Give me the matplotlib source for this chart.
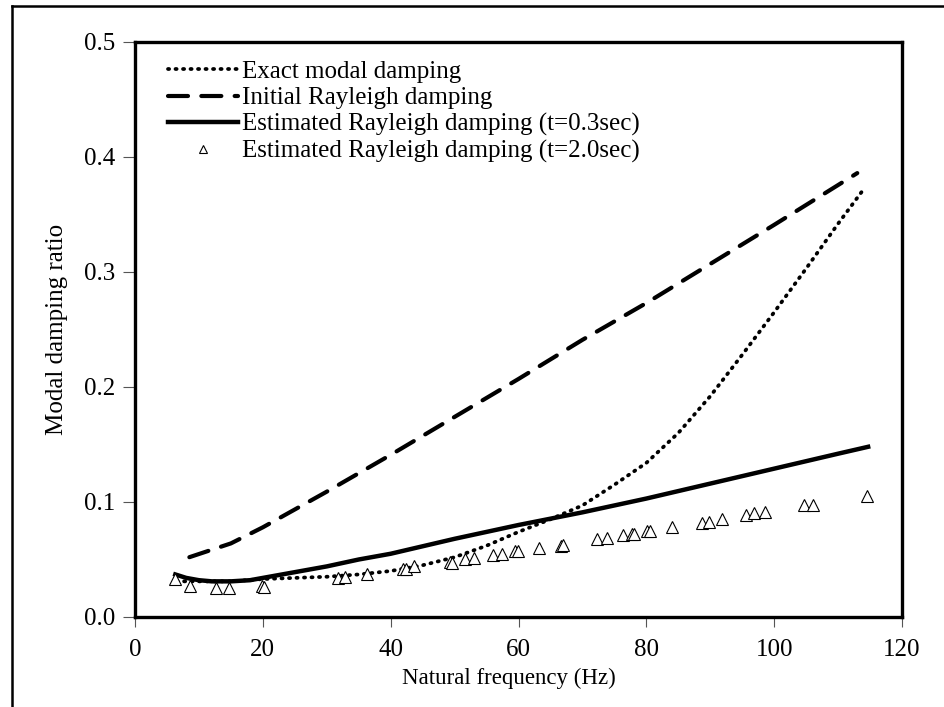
import numpy as np
import matplotlib
matplotlib.use("Agg")
import matplotlib.pyplot as plt
from matplotlib.lines import Line2D

plt.rcParams['font.family'] = ['Liberation Serif', 'DejaVu Serif']

# exact modal damping (dotted)
f_exact = [6.5, 10, 15, 20, 25, 30, 35, 40, 45, 50, 55, 60, 65, 70, 75, 80,
           85, 90, 95, 100, 105, 110, 114]
z_exact = [0.031, 0.031, 0.031, 0.033, 0.034, 0.035, 0.037, 0.040, 0.045,
           0.052, 0.062, 0.074, 0.085, 0.097, 0.115, 0.134, 0.160, 0.192,
           0.228, 0.265, 0.303, 0.342, 0.372]

# initial Rayleigh damping (dashed)
f_init = [8.5, 15, 20, 30, 40, 50, 60, 70, 80, 90, 100, 113]
z_init = [0.052, 0.064, 0.078, 0.109, 0.141, 0.174, 0.207, 0.241, 0.273,
          0.307, 0.341, 0.386]

# estimated Rayleigh damping, t=0.3sec (solid)
f_est03 = [6.3, 8, 10, 12, 15, 18, 20, 25, 30, 35, 40, 50, 60, 70, 80, 90,
           100, 110, 114.7]
z_est03 = [0.037, 0.034, 0.032, 0.031, 0.031, 0.032, 0.034, 0.039, 0.044,
           0.050, 0.055, 0.068, 0.080, 0.091, 0.103, 0.116, 0.129, 0.142,
           0.148]

# estimated Rayleigh damping, t=2.0sec (triangles)
f_est20 = [6.3, 8.6, 12.7, 14.7, 19.9, 20.1, 31.8, 32.9, 36.3, 42.0, 42.4,
           43.7, 49.3, 49.6, 51.6, 53.1, 56.0, 57.4, 59.5, 59.9, 63.2, 66.7,
           66.9, 72.3, 73.9, 76.4, 77.8, 78.1, 80.1, 80.5, 84.0, 88.7, 89.8,
           91.9, 95.6, 96.9, 98.6, 104.7, 106.0, 114.6]
z_est20 = [0.033, 0.027, 0.025, 0.025, 0.027, 0.026, 0.034, 0.035, 0.037,
           0.042, 0.042, 0.044, 0.048, 0.047, 0.050, 0.051, 0.054, 0.055,
           0.057, 0.057, 0.060, 0.062, 0.063, 0.068, 0.069, 0.071, 0.072,
           0.072, 0.075, 0.075, 0.078, 0.082, 0.083, 0.085, 0.089, 0.090,
           0.091, 0.097, 0.097, 0.105]

fig = plt.figure(figsize=(9.45, 7.07), dpi=100)
ax = fig.add_axes([0.1429, 0.1273, 0.8116, 0.8133])

ax.plot(f_exact, z_exact, color='black', lw=2.7, linestyle=(0, (0.3, 1.7)),
        dash_capstyle='round', label='Exact modal damping')
ax.plot(f_init, z_init, color='black', lw=3, linestyle=(0, (4.8, 3.2)),
        dash_capstyle='round', label='Initial Rayleigh damping')
ax.plot(f_est03, z_est03, color='black', lw=3.2,
        label='Estimated Rayleigh damping (t=0.3sec)')
ax.plot(f_est20, z_est20, linestyle='none', marker='^', ms=9, mfc='white',
        mec='black', mew=0.8, label='Estimated Rayleigh damping (t=2.0sec)')

ax.set_xlim(0, 120)
ax.set_ylim(0, 0.5)
ax.set_xticks([0, 20, 40, 60, 80, 100, 120])
ax.set_yticks([0.0, 0.1, 0.2, 0.3, 0.4, 0.5])
ax.set_yticklabels(['0.0', '0.1', '0.2', '0.3', '0.4', '0.5'])
ax.tick_params(direction='out', width=0.8, color='#555555', labelsize=18)
ax.tick_params(axis='x', length=7.5, pad=8)
ax.tick_params(axis='y', length=8.5, pad=6)
for s in ax.spines.values():
    s.set_linewidth(2.4)

ax.set_xlabel('Natural frequency (Hz)', fontsize=16.5)
ax.xaxis.set_label_coords(0.488, -0.088)
ax.xaxis.label.set_va('top')
ax.set_ylabel('Modal damping ratio', fontsize=18, labelpad=11)

leg = ax.legend(loc='upper left', bbox_to_anchor=(0.03, 0.985), frameon=False,
                fontsize=18, handlelength=2.8, handletextpad=0.15,
                labelspacing=0.15, markerscale=0.7, borderaxespad=0)

# outer frame of the figure (top and left edges only)
fig.add_artist(Line2D([12/945, 1], [1-6/707, 1-6/707], color='black', lw=1.8))
fig.add_artist(Line2D([12/945, 12/945], [0, 1-6/707], color='black', lw=1.8))

fig.savefig('out.png', dpi=100)
